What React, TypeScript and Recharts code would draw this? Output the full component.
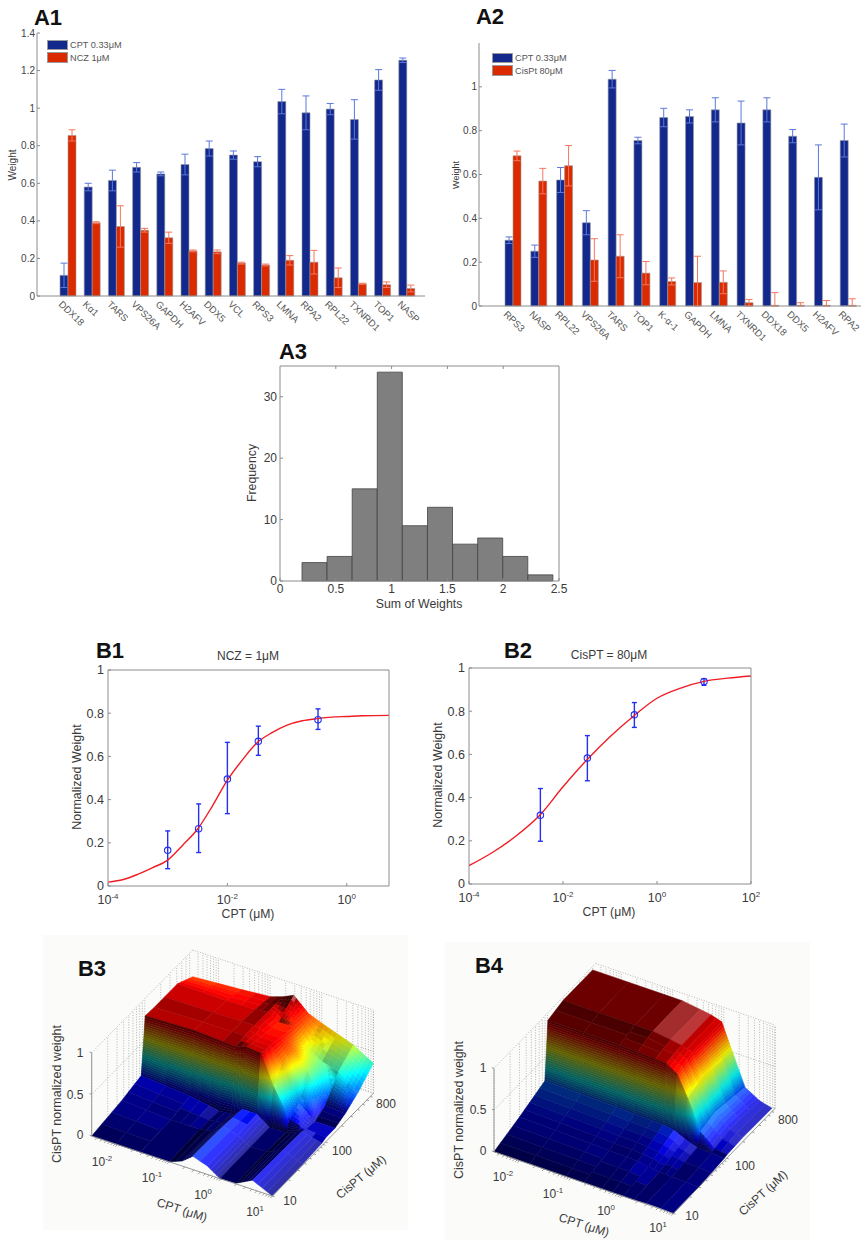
import React from 'react';
import {
  BarChart, Bar, XAxis, YAxis, ErrorBar, Legend,
  ComposedChart, Line, ScatterChart, Scatter,
} from 'recharts';

const FONT = '"Liberation Sans", Arial, sans-serif';
const TEXT = '#3a3a3a';
const AXIS = '#8c8c8c';
const BLUE = '#12288c';
const RED = '#dc2a00';

// A1
const a1Genes = ['DDX18', 'Kα1', 'TARS', 'VPS26A', 'GAPDH', 'H2AFV', 'DDX5', 'VCL', 'RPS3', 'LMNA', 'RPA2', 'RPL22', 'TXNRD1', 'TOP1', 'NASP'];
const a1Cpt = [0.11, 0.58, 0.615, 0.685, 0.65, 0.7, 0.785, 0.75, 0.715, 1.035, 0.975, 0.995, 0.94, 1.15, 1.255];
const a1CptErr = [0.065, 0.02, 0.055, 0.025, 0.01, 0.055, 0.04, 0.022, 0.027, 0.065, 0.09, 0.03, 0.105, 0.055, 0.012];
const a1Ncz = [0.855, 0.39, 0.37, 0.35, 0.31, 0.24, 0.235, 0.175, 0.165, 0.19, 0.18, 0.097, 0.065, 0.06, 0.04];
const a1NczErr = [0.03, 0.005, 0.11, 0.01, 0.03, 0.005, 0.01, 0.005, 0.005, 0.025, 0.063, 0.052, 0.003, 0.015, 0.018];

// A2
const a2Genes = ['RPS3', 'NASP', 'RPL22', 'VPS26A', 'TARS', 'TOP1', 'K-α-1', 'GAPDH', 'LMNA', 'TXNRD1', 'DDX18', 'DDX5', 'H2AFV', 'RPA2'];
const a2Cpt = [0.3, 0.25, 0.575, 0.38, 1.035, 0.755, 0.86, 0.865, 0.895, 0.835, 0.895, 0.775, 0.587, 0.755];
const a2CptErr = [0.015, 0.028, 0.057, 0.055, 0.04, 0.015, 0.042, 0.03, 0.055, 0.1, 0.055, 0.03, 0.148, 0.075];
const a2Cis = [0.685, 0.57, 0.64, 0.21, 0.227, 0.15, 0.112, 0.107, 0.108, 0.015, 0.003, 0.003, 0.003, 0.003];
const a2CisErr = [0.022, 0.058, 0.092, 0.097, 0.098, 0.053, 0.016, 0.12, 0.052, 0.015, 0.058, 0.012, 0.022, 0.03];

// A3
const histCenters = [0.31, 0.535, 0.76, 0.985, 1.205, 1.426, 1.653, 1.878, 2.1, 2.325];
const histCounts = [3, 4, 15, 34, 9, 12, 6, 7, 4, 1];

// B1
const b1CurveX = [1e-4, 1.8e-4, 3.2e-4, 5.6e-4, 1e-3, 1.8e-3, 3.2e-3, 5.6e-3, 1e-2, 1.8e-2, 3.2e-2, 5.6e-2, 0.1, 0.18, 0.32, 0.56, 1, 1.8, 5.1];
const b1CurveY = [0.018, 0.03, 0.055, 0.085, 0.12, 0.19, 0.265, 0.37, 0.49, 0.585, 0.665, 0.71, 0.745, 0.765, 0.775, 0.782, 0.785, 0.788, 0.79];
const b1PointX = [1e-3, 3.3e-3, 1e-2, 3.3e-2, 0.33];
const b1PointY = [0.165, 0.265, 0.495, 0.67, 0.77];
const b1PointLo = [0.085, 0.11, 0.16, 0.065, 0.045];
const b1PointHi = [0.09, 0.115, 0.17, 0.07, 0.05];

// B2
const b2CurveX = [1e-4, 3.2e-4, 1e-3, 3.2e-3, 1e-2, 3.2e-2, 0.1, 0.32, 1, 3.2, 10, 32, 100];
const b2CurveY = [0.085, 0.147, 0.222, 0.318, 0.45, 0.574, 0.682, 0.778, 0.86, 0.907, 0.938, 0.953, 0.963];
const b2PointX = [3.3e-3, 3.3e-2, 0.33, 10];
const b2PointY = [0.318, 0.583, 0.783, 0.938];
const b2PointLo = [0.12, 0.105, 0.058, 0.018];
const b2PointHi = [0.124, 0.104, 0.057, 0.012];

// B3, heights on the CPT (columns) by CisPT (rows) grid, positions along the box edges
const b3Cpt = [0, 0.27, 0.43, 0.5, 0.56, 0.64, 0.71, 0.8, 0.89, 1];
const b3Cis = [0, 0.3, 0.49, 0.53, 0.62, 0.72, 0.85, 1];
const b3Weight = [
  [0, 0, 0, 0.06, 0.16, 0.1, 0, 0.01, 0.11, 0],
  [0.06, 0.02, 0.02, 0.05, 0.15, 0.1, 0.01, 0.02, 0.1, 0.01],
  [0.12, 0.07, 0.01, 0.02, 0.12, 0.12, 0.01, 0.01, 0.09, 0.03],
  [0.79, 0.81, 0.79, 0.78, 0.82, 0.8, 0.45, 0.12, 0.07, 0.05],
  [0.78, 0.8, 0.8, 0.8, 0.78, 0.78, 0.62, 0.2, 0.05, 0.05],
  [0.78, 0.79, 0.8, 0.8, 0.75, 0.75, 0.66, 0.42, 0.12, 0.1],
  [0.78, 0.77, 0.78, 0.8, 0.72, 0.72, 0.52, 0.42, 0.36, 0.2],
  [0.68, 0.72, 0.75, 0.8, 0.86, 0.7, 0.64, 0.57, 0.5, 0.36],
];

// B4
const b4Cpt = [0, 0.2, 0.4, 0.5, 0.6, 0.66, 0.72, 0.78, 0.85, 0.93, 1];
const b4Cis = [0, 0.25, 0.5, 0.53, 0.68, 0.97];
const b4Weight = [
  [0, 0, 0, 0, 0, 0, 0, 0, 0.01, 0.01, 0],
  [0.1, 0.09, 0.08, 0.07, 0.065, 0.06, 0.04, 0.02, 0.01, 0.01, 0],
  [0.22, 0.21, 0.2, 0.19, 0.185, 0.18, 0.16, 0.1, 0.05, 0.04, 0.03],
  [0.91, 0.91, 0.91, 0.9, 0.89, 0.88, 0.8, 0.55, 0.2, 0.06, 0.04],
  [0.96, 0.96, 0.96, 0.96, 0.93, 0.91, 0.87, 0.62, 0.25, 0.1, 0.05],
  [0.96, 0.96, 0.96, 0.96, 0.93, 0.91, 0.87, 0.55, 0.18, 0.08, 0.04],
];

// CPT 10^-2.5 .. 10^1 and CisPT 10 .. 800 log tick positions along the box edges
const LOG_MINOR = [1, 2, 3, 4, 5, 6, 7, 8, 9];
const cptTicks = [-3, -2, -1, 0].flatMap((d) => LOG_MINOR.map((m) => (d + Math.log10(m) + 2.5) / 3.5)).filter((u) => u >= 0 && u <= 1).concat([1]);
const cisTicks = [1, 2].flatMap((d) => LOG_MINOR.map((m) => (d + Math.log10(m) - 1) / 1.903)).filter((v) => v >= 0 && v <= 1);

const table = (labels: string[], a: number[], ae: number[], b: number[], be: number[]) =>
  labels.map((gene, i) => ({
    gene,
    a: a[i],
    aErr: [Math.min(ae[i], a[i]), ae[i]],
    b: b[i],
    bErr: [Math.min(be[i], b[i]), be[i]],
  }));

const a1Data = table(a1Genes, a1Cpt, a1CptErr, a1Ncz, a1NczErr);
const a2Data = table(a2Genes, a2Cpt, a2CptErr, a2Cis, a2CisErr);
const histData = histCenters.map((center, i) => ({ center, count: histCounts[i] }));
const curve = (xs: number[], ys: number[]) => xs.map((x, i) => ({ x, y: ys[i] }));
const points = (xs: number[], ys: number[], lo: number[], hi: number[]) =>
  xs.map((x, i) => ({ x, y: ys[i], err: [lo[i], hi[i]] }));

const Txt = ({ x, y, size = 11, rot = 0, bold = false, color = TEXT, children }: any) => (
  <div
    style={{
      position: 'absolute', left: x, top: y, fontSize: size, color, lineHeight: 1, whiteSpace: 'nowrap',
      fontWeight: bold ? 'bold' : 'normal', fontFamily: FONT,
      transform: `translate(-50%, -50%) rotate(${rot}deg)`,
    }}
  >
    {children}
  </div>
);

const Pow = ({ e }: { e: string }) => (
  <span>10<sup style={{ fontSize: '0.65em', lineHeight: 0 }}>{e}</sup></span>
);

const GeneTick = ({ x, y, payload }: any) => (
  <text x={x - 10} y={y + 1} fontSize={9.6} fill="#555" fontFamily={FONT} transform={`rotate(44 ${x - 10} ${y + 1})`}>
    {payload.value}
  </text>
);

const LogTick = ({ x, y, payload }: any) => (
  <text x={x} y={y + 16} fontSize={12.5} fill={TEXT} fontFamily={FONT} textAnchor="middle">
    10<tspan dy={-5} fontSize={8}>{Math.round(Math.log10(payload.value))}</tspan>
  </text>
);

const NoTick = () => <g />;

const legendBoxes = ({ payload }: any) => (
  <div style={{ fontFamily: FONT, fontSize: 9.2, color: '#555' }}>
    {payload.map((e: any) => (
      <div key={e.value} style={{ display: 'flex', alignItems: 'center', height: 12.4 }}>
        <span style={{ width: 19, height: 8.5, background: e.color, border: '1px solid #999', marginRight: 2 }} />
        {e.value}
      </div>
    ))}
  </div>
);

const WeightBars = ({ left, width, data, top, xHeight, yWidth, padLeft, padRight, marginRight, domain, ticks, legendLeft, legendTop, names }: any) => (
  <div style={{ position: 'absolute', left, top: 0 }}>
    <BarChart width={width} height={370} data={data} barSize={8} barGap={0} margin={{ top, right: marginRight, bottom: 0, left: 0 }}>
      <XAxis dataKey="gene" interval={0} height={xHeight} padding={{ left: padLeft, right: padRight }} tick={<GeneTick />} tickLine={false} stroke={AXIS} />
      <YAxis width={yWidth} domain={domain} ticks={ticks} tick={{ fontSize: 10, fill: '#444', fontFamily: FONT }} tickSize={-3} tickMargin={5} stroke={AXIS} />
      <Legend layout="vertical" align="center" verticalAlign="middle" content={legendBoxes} wrapperStyle={{ left: legendLeft, top: legendTop, width: 110 }} />
      <Bar dataKey="a" name={names[0]} fill={BLUE} stroke="#9a9a9a" strokeWidth={0.6} isAnimationActive={false}>
        <ErrorBar dataKey="aErr" width={3.5} stroke="#5b78dc" strokeWidth={1} />
      </Bar>
      <Bar dataKey="b" name={names[1]} fill={RED} stroke="#9a9a9a" strokeWidth={0.6} isAnimationActive={false}>
        <ErrorBar dataKey="bErr" width={3.5} stroke="#f4775c" strokeWidth={1} />
      </Bar>
    </BarChart>
  </div>
);

// the bins sit on a hidden band axis, the printed 0 .. 2.5 scale is its own axis
const Histogram = () => (
  <div style={{ position: 'absolute', left: 230, top: 340 }}>
    <BarChart width={340} height={270} data={histData} barCategoryGap={0} margin={{ top: 25, right: 10, bottom: 0, left: 0 }}>
      <XAxis dataKey="center" hide height={0} padding={{ left: 22, right: 6 }} />
      <XAxis xAxisId="scale" dataKey="center" type="number" domain={[0, 2.5]} ticks={[0, 0.5, 1, 1.5, 2, 2.5]} height={29} tick={{ fontSize: 12, fill: TEXT, fontFamily: FONT }} tickSize={-3} tickMargin={6} stroke={AXIS} />
      <XAxis xAxisId="top" dataKey="center" orientation="top" type="number" domain={[0, 2.5]} ticks={[0.5, 1, 1.5, 2]} height={1} tick={NoTick} tickSize={-3} stroke={AXIS} />
      <YAxis width={50} domain={[0, 35]} ticks={[0, 10, 20, 30]} tick={{ fontSize: 12, fill: TEXT, fontFamily: FONT }} tickSize={-3} tickMargin={6} stroke={AXIS} />
      <YAxis yAxisId="right" orientation="right" width={1} domain={[0, 35]} ticks={[10, 20, 30]} tick={NoTick} tickSize={-3} stroke={AXIS} />
      <Bar dataKey="count" fill="#7f7f7f" stroke="#444" strokeWidth={0.8} isAnimationActive={false} />
    </BarChart>
  </div>
);

const DoseCurve = ({ left, top, width, height, plot, domain, ticks, line, dots }: any) => (
  <div style={{ position: 'absolute', left, top }}>
    <ComposedChart width={width} height={height} margin={{ top: plot.top - 1, right: plot.right - 1, bottom: 0, left: 0 }}>
      <XAxis dataKey="x" type="number" scale="log" domain={domain} allowDataOverflow ticks={ticks} height={plot.xHeight} tick={<LogTick />} tickSize={-3} tickMargin={5} stroke={AXIS} />
      <XAxis xAxisId="top" orientation="top" type="number" scale="log" domain={domain} allowDataOverflow ticks={ticks} height={1} tick={NoTick} tickSize={-3} stroke={AXIS} />
      <YAxis width={plot.yWidth} domain={[0, 1]} ticks={[0, 0.2, 0.4, 0.6, 0.8, 1]} tick={{ fontSize: 12.5, fill: TEXT, fontFamily: FONT }} tickSize={-3} tickMargin={7} stroke={AXIS} />
      <YAxis yAxisId="right" orientation="right" width={1} domain={[0, 1]} ticks={[0.2, 0.4, 0.6, 0.8]} tick={NoTick} tickSize={-3} stroke={AXIS} />
      <Line data={dots} dataKey="y" stroke="none" dot={{ r: 3.2, stroke: '#2430ee', strokeWidth: 1.1, fill: 'none' }} isAnimationActive={false}>
        <ErrorBar dataKey="err" width={2.5} stroke="#2430ee" strokeWidth={1.4} direction="y" />
      </Line>
      <Line data={line} dataKey="y" stroke="#f01c24" strokeWidth={1.4} dot={false} type="monotone" isAnimationActive={false} />
    </ComposedChart>
  </div>
);

const clamp01 = (t: number) => Math.max(0, Math.min(1, t));
const jet = (t: number) => [
  clamp01(Math.min(4 * t - 1.5, -4 * t + 4.5)),
  clamp01(Math.min(4 * t - 0.5, -4 * t + 3.5)),
  clamp01(Math.min(4 * t + 0.5, -4 * t + 2.5)),
];

// jet colour of the height, dimmed or lifted by which way the facet faces
const facetColor = (t: number, dzu: number, dzv: number) => {
  const len = Math.sqrt(dzu * dzu + dzv * dzv + 1);
  const nx = -dzu / len;
  const ny = -dzv / len;
  const nz = 1 / len;
  const side = nx + ny;
  let light;
  if (side < 0) {
    light = Math.max(0.38, 1.22 - 0.45 * nz + 0.85 * side);
  } else {
    const w = clamp01((nz - 0.1) / 0.25);
    light = 0.72 * (1 - w) + (0.85 + 0.9 * Math.min(side, 0.4)) * w;
  }
  const dim = Math.min(light, 1);
  const liftGain = t < 0.25 ? 0.9 : t > 0.95 ? 1.6 : 0;
  const lift = Math.max(light - 1, 0) * liftGain;
  return 'rgb(' + jet(t).map((c) => Math.round(255 * (c * dim * (1 - lift) + lift))).join(',') + ')';
};

const Surface3D = ({ left, top, width, height, origin, uVec, vVec, zLen, us, vs, zs }: any) => {
  const project = (u: number, v: number, z: number) => ({
    px: origin[0] + u * uVec[0] + v * vVec[0],
    py: origin[1] + u * uVec[1] + v * vVec[1] - z * zLen,
  });
  const segment = (list: any[], a: number[], b: number[]) => {
    list.push(project(a[0], a[1], a[2]), project(b[0], b[1], b[2]));
  };

  const wall: any[] = [];
  cptTicks.forEach((u) => segment(wall, [u, 1, 0], [u, 1, 1]));
  cisTicks.forEach((v) => segment(wall, [0, v, 0], [0, v, 1]));
  [0, 0.5, 1].forEach((z) => {
    segment(wall, [0, 0, z], [0, 1, z]);
    segment(wall, [0, 1, z], [1, 1, z]);
  });
  segment(wall, [1, 1, 0], [1, 1, 1]);

  const frame: any[] = [];
  segment(frame, [0, 0, 0], [1, 0, 0]);
  segment(frame, [1, 0, 0], [1, 1, 0]);
  segment(frame, [0, 0, 0], [0, 0, 1]);
  cptTicks.forEach((u) => segment(frame, [u, 0, 0], [u, -0.02, 0]));
  cisTicks.forEach((v) => segment(frame, [1, v, 0], [1.012, v, 0]));
  [0, 0.5, 1].forEach((z) => segment(frame, [0, 0, z], [-0.012, 0, z]));

  const zMax = Math.max(...zs.flat());
  const verts: any[] = [];
  const fills: string[] = [];
  // far corner first: high CisPT, low CPT
  for (let j = vs.length - 2; j >= 0; j--) {
    for (let i = 0; i < us.length - 1; i++) {
      const [z00, z10, z01, z11] = [zs[j][i], zs[j][i + 1], zs[j + 1][i], zs[j + 1][i + 1]];
      const nu = Math.min(16, Math.max(1, Math.ceil(Math.max(Math.abs(z10 - z00), Math.abs(z11 - z01)) / 0.03)));
      const nv = Math.min(28, Math.max(1, Math.ceil(Math.max(Math.abs(z01 - z00), Math.abs(z11 - z10)) / 0.025)));
      const du = us[i + 1] - us[i];
      const dv = vs[j + 1] - vs[j];
      const heightAt = (a: number, b: number) => z00 * (1 - a) * (1 - b) + z10 * a * (1 - b) + z01 * (1 - a) * b + z11 * a * b;
      for (let q = nv - 1; q >= 0; q--) {
        for (let p = 0; p < nu; p++) {
          const [a0, a1, b0, b1] = [p / nu, (p + 1) / nu, q / nv, (q + 1) / nv];
          const [u0, u1, v0, v1] = [us[i] + a0 * du, us[i] + a1 * du, vs[j] + b0 * dv, vs[j] + b1 * dv];
          const [h00, h10, h11, h01] = [heightAt(a0, b0), heightAt(a1, b0), heightAt(a1, b1), heightAt(a0, b1)];
          verts.push(project(u0, v0, h00), project(u1, v0, h10), project(u1, v1, h11), project(u0, v1, h01));
          const mean = (h00 + h10 + h11 + h01) / 4;
          fills.push(facetColor(mean / zMax, ((h10 + h11 - h00 - h01) / 2) / (u1 - u0), ((h01 + h11 - h00 - h10) / 2) / (v1 - v0)));
        }
      }
    }
  }

  const drawSegments = (stroke: string, dash?: string, w = 0.6) => (props: any) => (
    <g>
      {props.points.filter((_: any, k: number) => k % 2 === 0).map((s: any, k: number) => (
        <line key={k} x1={s.x} y1={s.y} x2={props.points[2 * k + 1].x} y2={props.points[2 * k + 1].y} stroke={stroke} strokeWidth={w} strokeDasharray={dash} />
      ))}
    </g>
  );
  const drawFacets = (props: any) => (
    <g>
      {fills.map((fill, k) => {
        const c = props.points.slice(4 * k, 4 * k + 4);
        return <polygon key={k} points={c.map((p: any) => `${p.x},${p.y}`).join(' ')} fill={fill} stroke={fill} strokeWidth={0.5} />;
      })}
    </g>
  );
  const noDot = () => <g />;

  return (
    <div style={{ position: 'absolute', left, top }}>
      <ScatterChart width={width} height={height} margin={{ top: 0, right: 0, bottom: 0, left: 0 }}>
        <XAxis dataKey="px" type="number" domain={[0, width]} hide />
        <YAxis dataKey="py" type="number" domain={[0, height]} reversed hide />
        <Scatter data={wall} line={drawSegments('#8a8a8a', '1 1.6')} shape={noDot} isAnimationActive={false} />
        <Scatter data={verts} line={drawFacets} shape={noDot} isAnimationActive={false} />
        <Scatter data={frame} line={drawSegments('#8c8c8c', undefined, 0.9)} shape={noDot} isAnimationActive={false} />
      </ScatterChart>
    </div>
  );
};

export default function App() {
  return (
    <div style={{ position: 'absolute', left: 0, top: 0, width: 861, height: 1240, background: '#fff', overflow: 'hidden', fontFamily: FONT }}>
      <WeightBars
        left={0} width={430} data={a1Data} top={33} xHeight={74} yWidth={37} padLeft={19} padRight={6} marginRight={5}
        domain={[0, 1.4]} ticks={[0, 0.2, 0.4, 0.6, 0.8, 1, 1.2, 1.4]} legendLeft={47} legendTop={39} names={['CPT 0.33μM', 'NCZ 1μM']}
      />
      <WeightBars
        left={430} width={431} data={a2Data} top={43} xHeight={64} yWidth={49} padLeft={21} padRight={0} marginRight={0}
        domain={[0, 1.2]} ticks={[0, 0.2, 0.4, 0.6, 0.8, 1]} legendLeft={62} legendTop={52} names={['CPT 0.33μM', 'CisPt 80μM']}
      />
      <Histogram />
      <DoseCurve
        left={50} top={640} width={360} height={280} domain={[1e-4, 5.1]} ticks={[1e-4, 1e-2, 1]}
        plot={{ top: 30, right: 21, xHeight: 34, yWidth: 58 }} line={curve(b1CurveX, b1CurveY)} dots={points(b1PointX, b1PointY, b1PointLo, b1PointHi)}
      />
      <DoseCurve
        left={420} top={640} width={350} height={280} domain={[1e-4, 100]} ticks={[1e-4, 1e-2, 1, 100]}
        plot={{ top: 28, right: 19, xHeight: 36, yWidth: 49 }} line={curve(b2CurveX, b2CurveY)} dots={points(b2PointX, b2PointY, b2PointLo, b2PointHi)}
      />

      <div style={{ position: 'absolute', left: 43, top: 935, width: 365, height: 295, background: '#fbfbf9' }} />
      <div style={{ position: 'absolute', left: 445, top: 942, width: 365, height: 298, background: '#fbfbf9' }} />
      <Surface3D left={0} top={920} width={430} height={320} origin={[91.7, 216]} uVec={[180.7, 60]} vVec={[101, -102.7]} zLen={83.3} us={b3Cpt} vs={b3Cis} zs={b3Weight} />
      <Surface3D left={430} top={920} width={431} height={320} origin={[64, 231.7]} uVec={[179.3, 61.7]} vVec={[101.7, -105]} zLen={83.3} us={b4Cpt} vs={b4Cis} zs={b4Weight} />

      <Txt x={48} y={18} size={22} bold color="#111">A1</Txt>
      <Txt x={490} y={17} size={22} bold color="#111">A2</Txt>
      <Txt x={293} y={352} size={22} bold color="#111">A3</Txt>
      <Txt x={110} y={651} size={22} bold color="#111">B1</Txt>
      <Txt x={518} y={651} size={22} bold color="#111">B2</Txt>
      <Txt x={92} y={969} size={22} bold color="#111">B3</Txt>
      <Txt x={489} y={966} size={22} bold color="#111">B4</Txt>

      <Txt x={13} y={165} size={10} rot={-90}>Weight</Txt>
      <Txt x={456} y={175} size={9} rot={-90}>Weight</Txt>
      <Txt x={252} y={473} size={12.3} rot={-90}>Frequency</Txt>
      <Txt x={419} y={604} size={12.3}>Sum of Weights</Txt>

      <Txt x={248} y={656} size={12}>NCZ = 1μM</Txt>
      <Txt x={248} y={914} size={12.2}>CPT (μM)</Txt>
      <Txt x={77} y={777} size={12.5} rot={-90}>Normalized Weight</Txt>
      <Txt x={609} y={655} size={12}>CisPT = 80μM</Txt>
      <Txt x={609} y={912} size={12.2}>CPT (μM)</Txt>
      <Txt x={438} y={775} size={12.5} rot={-90}>Normalized Weight</Txt>

      <Txt x={80} y={1053} size={12}>1</Txt>
      <Txt x={75} y={1095} size={12}>0.5</Txt>
      <Txt x={80} y={1135} size={12}>0</Txt>
      <Txt x={57} y={1094} size={12.5} rot={-90}>CisPT normalized weight</Txt>
      <Txt x={102} y={1162} size={12}><Pow e="-2" /></Txt>
      <Txt x={152} y={1178} size={12}><Pow e="-1" /></Txt>
      <Txt x={203} y={1195} size={12}><Pow e="0" /></Txt>
      <Txt x={255} y={1212} size={12}><Pow e="1" /></Txt>
      <Txt x={290} y={1201} size={12}>10</Txt>
      <Txt x={342} y={1151} size={12}>100</Txt>
      <Txt x={386} y={1104} size={12}>800</Txt>
      <Txt x={182} y={1210} size={12} rot={18}>CPT (μM)</Txt>
      <Txt x={361} y={1177} size={12} rot={-40}>CisPT (μM)</Txt>

      <Txt x={483} y={1068} size={12}>1</Txt>
      <Txt x={478} y={1110} size={12}>0.5</Txt>
      <Txt x={483} y={1151} size={12}>0</Txt>
      <Txt x={459} y={1110} size={12.5} rot={-90}>CisPT normalized weight</Txt>
      <Txt x={503} y={1177} size={12}><Pow e="-2" /></Txt>
      <Txt x={553} y={1194} size={12}><Pow e="-1" /></Txt>
      <Txt x={606} y={1211} size={12}><Pow e="0" /></Txt>
      <Txt x={658} y={1228} size={12}><Pow e="1" /></Txt>
      <Txt x={692} y={1216} size={12}>10</Txt>
      <Txt x={745} y={1166} size={12}>100</Txt>
      <Txt x={788} y={1120} size={12}>800</Txt>
      <Txt x={584} y={1225} size={12} rot={18}>CPT (μM)</Txt>
      <Txt x={763} y={1193} size={12} rot={-42}>CisPT (μM)</Txt>
    </div>
  );
}
